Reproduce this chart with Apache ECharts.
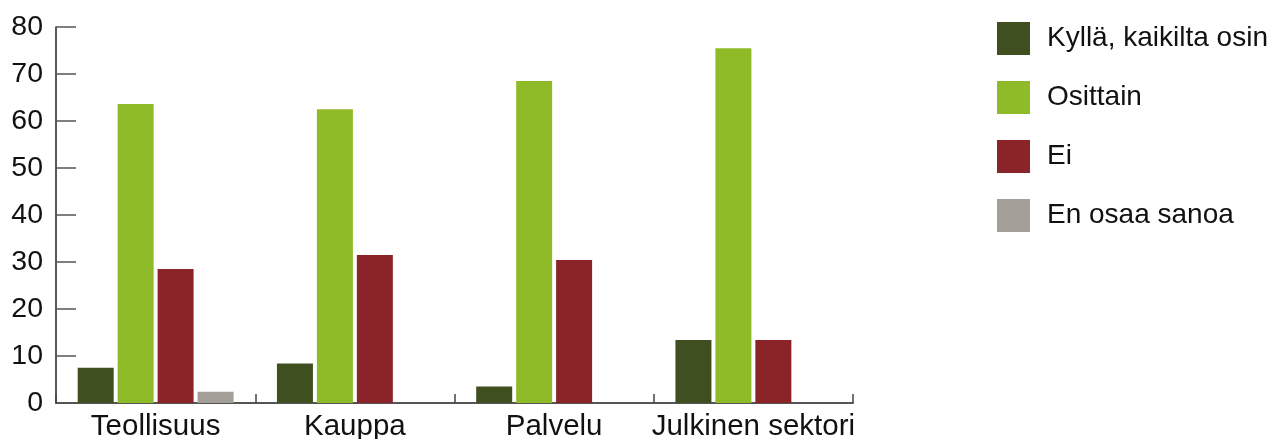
<!DOCTYPE html>
<html>
<head>
<meta charset="utf-8">
<script src="https://cdn.jsdelivr.net/npm/echarts@6/dist/echarts.min.js"></script>
<style>
html,body{margin:0;padding:0;background:#fff;}
#c{width:1272px;height:439px;}
</style>
</head>
<body>
<div id="c"></div>
<script>
const categories = ['Teollisuus', 'Kauppa', 'Palvelu', 'Julkinen sektori'];
const seriesNames = ['Kyllä, kaikilta osin', 'Osittain', 'Ei', 'En osaa sanoa'];
const kylla = [7.5, 8.4, 3.5, 13.4];
const osittain = [63.6, 62.5, 68.5, 75.5];
const ei = [28.5, 31.5, 30.4, 13.4];
const eos = [2.4, 0, 0, 0];
const yTicks = { min: 0, max: 80, interval: 10 };

const colors = ['#404f20', '#90bb29', '#8a2428', '#a39f98'];
const FONT = '"Liberation Sans", Arial, Helvetica, sans-serif';
const values = [kylla, osittain, ei, eos];

const chart = echarts.init(document.getElementById('c'), null, { renderer: 'canvas' });
chart.setOption({
  animation: false,
  backgroundColor: '#ffffff',
  textStyle: { fontFamily: FONT },
  grid: { left: 56, right: 419, top: 27, height: 376, containLabel: false, outerBoundsMode: 'none' },
  legend: {
    orient: 'vertical',
    left: 992,
    top: 17,
    itemWidth: 33,
    itemHeight: 33,
    itemGap: 26,
    icon: 'rect',
    data: seriesNames,
    textStyle: { fontFamily: FONT, fontSize: 28, color: '#111', padding: [0, 0, 0, 12] }
  },
  xAxis: {
    type: 'category',
    data: categories,
    axisLine: { lineStyle: { color: '#555', width: 2 } },
    axisTick: { show: true, inside: true, length: 9, lineStyle: { color: '#444', width: 1.5 } },
    axisLabel: { fontFamily: FONT, fontSize: 29.5, color: '#111', margin: 9, interval: 0 }
  },
  yAxis: {
    type: 'value',
    min: yTicks.min,
    max: yTicks.max,
    interval: yTicks.interval,
    splitLine: { show: false },
    axisLine: { show: true, lineStyle: { color: '#222', width: 1.5 } },
    axisTick: { show: true, inside: true, length: 20, lineStyle: { color: '#555', width: 1.5 } },
    axisLabel: { fontFamily: FONT, fontSize: 28.5, color: '#111', margin: 13 }
  },
  series: seriesNames.map((n, i) => ({
    name: n,
    type: 'bar',
    data: values[i],
    barWidth: 36,
    barGap: '11%',
    itemStyle: { color: colors[i] }
  }))
});
</script>
</body>
</html>
